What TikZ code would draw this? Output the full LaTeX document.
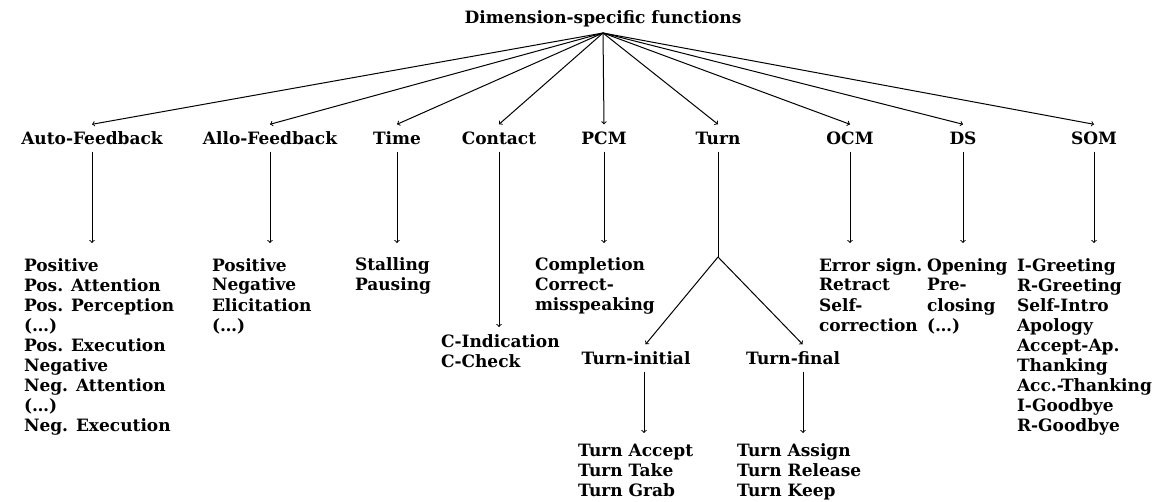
\documentclass[tikz,border=0pt]{standalone}
\usepackage{fontspec}
\setmainfont{DejaVu Serif}
\newcommand{\dsffont}{\fontsize{17}{20}\selectfont\bfseries}
\tikzstyle{dim} = [font=\dsffont, text height=13pt, text depth=0pt, inner xsep=2pt, inner ysep=7pt]
\tikzstyle{funlist} = [font=\dsffont, align=left, anchor=north west, inner sep=0pt, outer xsep=0pt, outer ysep=14pt]
\tikzstyle{conn} = [->, line width=1pt]

\begin{document}
\begin{tikzpicture}[x=1pt, y=-1pt]
		\useasboundingbox (0,0) rectangle (1169,502);
		% Raiz
		\node[dim] (dsf) at (603,17) {Dimension-specific functions};
		\coordinate (root) at (603,33);
		% Dimensiones
		\node[dim] (autofb) at (92,138) {Auto-Feedback};
		\node[dim] (allofb) at (270,138) {Allo-Feedback};
		\node[dim] (time) at (397,138) {Time};
		\node[dim] (contact) at (499,138) {Contact};
		\node[dim] (pcm) at (604,138) {PCM};
		\node[dim] (turn) at (718,138) {Turn};
		\node[dim] (ocm) at (850,138) {OCM};
		\node[dim] (ds) at (963,138) {DS};
		\node[dim] (som) at (1094,138) {SOM};
		\foreach \d in {autofb, allofb, time, contact, pcm, turn, ocm, ds, som}
			\draw[conn] (root) -- (\d.north);
		% Funciones
		\node[funlist] (autofbfun) at (24,243) {\strut Positive\\Pos. Attention\\Pos. Perception\\(…)\\Pos. Execution\\Negative\\Neg. Attention\\(…)\\Neg. Execution};
		\node[funlist] (allofbfun) at (212,243) {\strut Positive\\Negative\\Elicitation\\(…)};
		\node[funlist] (timefun) at (355,243) {\strut Stalling\\Pausing};
		\node[funlist, outer ysep=6pt] (contactfun) at (441,327) {\strut C-Indication\\C-Check};
		\node[funlist] (pcmfun) at (535,243) {\strut Completion\\Correct-\\misspeaking};
		\node[funlist] (ocmfun) at (819,243) {\strut Error sign.\\Retract\\Self-\\correction};
		\node[funlist] (dsfun) at (927,243) {\strut Opening\\Pre-\\closing\\(…)};
		\node[funlist] (somfun) at (1017,243) {\strut I-Greeting\\R-Greeting\\Self-Intro\\Apology\\Accept-Ap.\\Thanking\\Acc.-Thanking\\I-Goodbye\\R-Goodbye};
		\foreach \d in {autofb, allofb, time, contact, pcm, ocm, ds, som}
			\draw[conn] (\d.south) -- (\d.south |- \d fun.north);
		% Turn
		\coordinate (split) at (718,257);
		\node[dim] (tinit) at (636,358) {Turn-initial};
		\node[dim] (tfin) at (793,358) {Turn-final};
		\draw[line width=1pt] (turn.south) -- (split);
		\draw[conn] (split) -- (tinit.55);
		\draw[conn] (split) -- (tfin.55);
		\node[funlist, outer ysep=9pt] (tinitfun) at (578,433) {\strut Turn Accept\\Turn Take\\Turn Grab};
		\node[funlist, outer ysep=9pt] (tfinfun) at (737,433) {\strut Turn Assign\\Turn Release\\Turn Keep};
		\draw[conn] ([xshift=8pt]tinit.south) -- ([xshift=8pt]tinit.south |- tinitfun.north);
		\draw[conn] ([xshift=10pt]tfin.south) -- ([xshift=10pt]tfin.south |- tfinfun.north);
	\end{tikzpicture}
\end{document}
